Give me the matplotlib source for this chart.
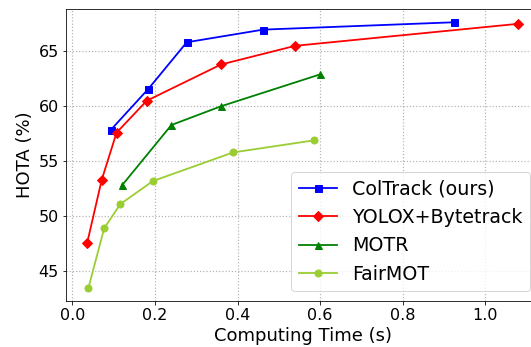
import matplotlib
matplotlib.use('Agg')
import matplotlib.pyplot as plt

coltrack_t = [0.093, 0.184, 0.277, 0.462, 0.925]
coltrack_h = [57.85, 61.58, 65.82, 66.97, 67.64]
yolox_t = [0.036, 0.071, 0.107, 0.180, 0.360, 0.540, 1.080]
yolox_h = [47.6, 53.3, 57.6, 60.5, 63.8, 65.5, 67.5]
motr_t = [0.120, 0.240, 0.360, 0.600]
motr_h = [52.8, 58.3, 60.0, 62.9]
fairmot_t = [0.039, 0.077, 0.116, 0.195, 0.389, 0.585]
fairmot_h = [43.5, 48.9, 51.1, 53.2, 55.8, 56.9]

fig = plt.figure(figsize=(531 / 72, 347 / 72), dpi=72)
ax = fig.add_axes([0.1237, 0.1326, 0.893, 0.8415])
ax.plot(coltrack_t, coltrack_h, '-s', color='blue', label='ColTrack (ours)', lw=1.8, ms=7)
ax.plot(yolox_t, yolox_h, '-D', color='red', label='YOLOX+Bytetrack', lw=1.8, ms=7)
ax.plot(motr_t, motr_h, '-^', color='green', label='MOTR', lw=1.8, ms=7)
ax.plot(fairmot_t, fairmot_h, '-o', color='yellowgreen', label='FairMOT', lw=1.8, ms=7)
ax.grid(True, linestyle=':', color='gray', alpha=0.6, lw=1.2)
ax.set_xlabel('Computing Time (s)', fontsize=18)
ax.set_ylabel('HOTA (%)', fontsize=18)
ax.set_xticks([0.0, 0.2, 0.4, 0.6, 0.8, 1.0])
ax.set_yticks([45, 50, 55, 60, 65])
ax.tick_params(labelsize=16)
ax.legend(loc='lower right', fontsize=19)
fig.savefig('out.png', dpi=72)
